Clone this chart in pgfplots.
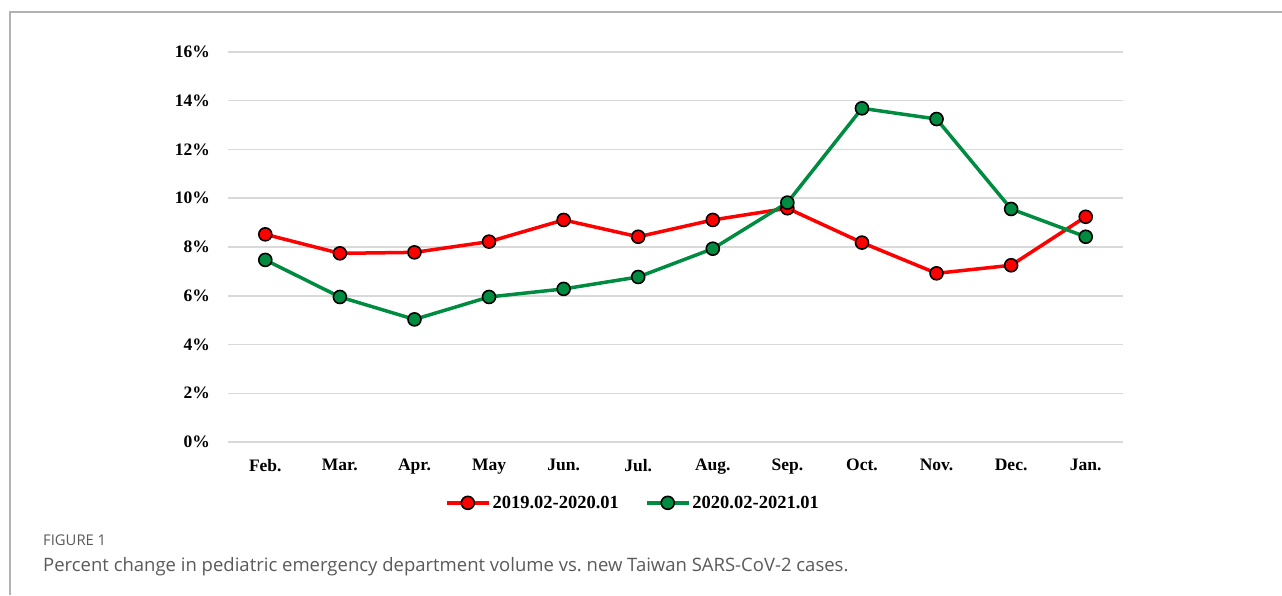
\documentclass[border=0pt]{standalone}
\usepackage{fontspec}
\setmainfont{Liberation Serif}
\newfontfamily\capfont{Open Sans}
\usepackage{pgfplots}
\pgfplotsset{compat=1.18}
\definecolor{sred}{RGB}{255,0,0}
\definecolor{sgreen}{RGB}{0,140,64}
\definecolor{gridc}{RGB}{217,217,217}
\definecolor{capgray}{RGB}{90,90,90}
\begin{document}
\begin{tikzpicture}
\useasboundingbox (0,0) rectangle (1282pt,595pt);
\draw[color=gray!60, line width=1.2pt] (10pt,0pt) -- (10pt,583pt) -- (1282pt,583pt);
\begin{axis}[
  at={(228pt,153pt)}, anchor=south west,
  width=895pt, height=390pt, scale only axis,
  xmin=-0.5, xmax=11.5, ymin=0, ymax=16,
  xtick={0,...,11},
  xticklabels={Feb.,Mar.,Apr.,May,Jun.,Jul.,Aug.,Sep.,Oct.,Nov.,Dec.,Jan.},
  ytick={0,2,...,16},
  yticklabel={\pgfmathprintnumber{\tick}\%},
  /pgf/number format/assume math mode=true,
  ticklabel style={font=\fontsize{17.5}{20}\selectfont\bfseries},
  yticklabel style={anchor=east, inner sep=0pt, xshift=-18pt},
  xticklabel style={anchor=north, inner sep=0pt, yshift=-17pt},
  major tick length=0pt,
  axis line style={draw=none},
  ymajorgrids, grid style={line width=1.5pt, color=gridc},
  legend columns=2,
  legend style={at={(0.4525,-0.156)}, anchor=center, draw=none, fill=none,
    font=\fontsize{18.5}{20}\selectfont\bfseries, inner sep=0pt,
    nodes={inner sep=2pt},
    /tikz/every even column/.append style={column sep=24pt}},
  legend cell align=left,
  legend image code/.code={
    \draw[#1, mark repeat=2, mark phase=2] plot coordinates {(0pt,0pt) (21pt,0pt) (42pt,0pt)};
  },
]
\addplot[color=sred, line width=3.5pt, mark=*, mark size=6.5pt,
  mark options={fill=sred, draw=black, line width=1.6pt}]
  coordinates {(0,8.52) (1,7.74) (2,7.78) (3,8.22) (4,9.11) (5,8.42) (6,9.11) (7,9.59) (8,8.18) (9,6.92) (10,7.25) (11,9.24)};
\addlegendentry{2019.02-2020.01}
\addplot[color=sgreen, line width=3.5pt, mark=*, mark size=6.5pt,
  mark options={fill=sgreen, draw=black, line width=1.6pt}]
  coordinates {(0,7.47) (1,5.95) (2,5.03) (3,5.95) (4,6.28) (5,6.77) (6,7.93) (7,9.82) (8,13.69) (9,13.25) (10,9.56) (11,8.42)};
\addlegendentry{2020.02-2021.01}
\end{axis}
\node[anchor=base west, inner sep=0pt, text=capgray, font=\capfont\fontsize{14.8}{16}\selectfont] at (43pt,50pt) {FIGURE 1};
\node[anchor=base west, inner sep=0pt, text=capgray, font=\capfont\fontsize{18.5}{20}\selectfont] at (43pt,24pt) {Percent change in pediatric emergency department volume vs.\ new Taiwan SARS-CoV-2 cases.};
\end{tikzpicture}
\end{document}
